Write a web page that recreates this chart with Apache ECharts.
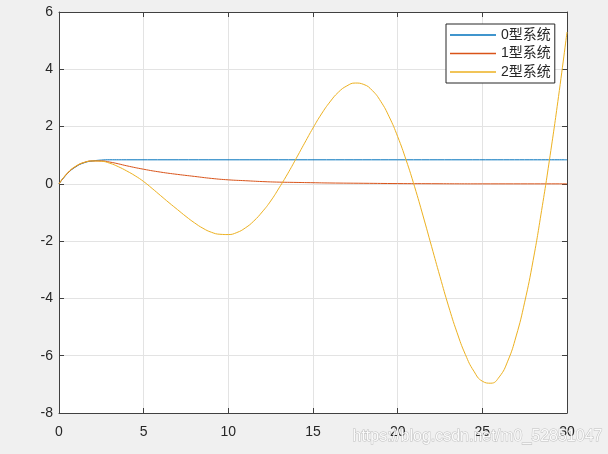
<!DOCTYPE html>
<html>
<head>
<meta charset="utf-8">
<script src="https://cdn.jsdelivr.net/npm/echarts@6/dist/echarts.min.js"></script>
<style>
html,body{margin:0;padding:0;background:#f0f0f0;}
#c{width:608px;height:454px;}
</style>
</head>
<body>
<div id="c"></div>
<script>
var seriesNames = ['0型系统', '1型系统', '2型系统'];
var xTicks = { min: 0, max: 30, interval: 5 };
var yTicks = { min: -8, max: 6, interval: 2 };

var tBlue = [0, 0.5, 1, 1.5, 2, 2.5, 3, 4, 30];
var vBlue = [0, 0.36, 0.6, 0.74, 0.8, 0.83, 0.84, 0.84, 0.84];

var tOrange = [0, 0.5, 1, 1.5, 2, 2.5, 3, 3.5, 4, 5, 6, 7, 8, 9, 10, 11, 12, 13, 14, 15, 16, 18, 20, 22, 25, 30];
var vOrange = [0, 0.37, 0.61, 0.75, 0.80, 0.80, 0.76, 0.70, 0.63, 0.51, 0.41, 0.33, 0.26, 0.19, 0.14, 0.11, 0.08, 0.06, 0.05, 0.04, 0.03, 0.02, 0.01, 0.005, 0, 0];

var tYellow = [0, 0.5, 1, 1.5, 2, 2.5, 3, 3.5, 4, 4.5, 5, 5.5, 6, 6.5, 7, 7.5, 8, 8.5, 9, 9.5, 10, 10.5, 11, 11.5, 12, 12.5, 13, 13.5, 14, 14.5, 15, 15.5, 16, 16.5, 17, 17.5, 18, 18.5, 19, 19.5, 20, 20.5, 21, 21.5, 22, 22.5, 23, 23.5, 24, 24.5, 25, 25.5, 26, 26.5, 27, 27.5, 28, 28.5, 29, 29.5, 30];
var vYellow = [0, 0.38, 0.62, 0.75, 0.80, 0.79, 0.72, 0.60, 0.45, 0.28, 0.08, -0.16, -0.41, -0.66, -0.90, -1.14, -1.36, -1.55, -1.69, -1.76, -1.77, -1.70, -1.54, -1.30, -0.98, -0.60, -0.14, 0.35, 0.88, 1.42, 1.95, 2.44, 2.86, 3.20, 3.42, 3.52, 3.47, 3.26, 2.88, 2.34, 1.65, 0.83, -0.10, -1.12, -2.18, -3.24, -4.26, -5.18, -5.96, -6.54, -6.89, -6.96, -6.74, -6.19, -5.31, -4.13, -2.67, -0.93, 0.98, 3.05, 5.3];

var colors = ['#0072BD', '#D95319', '#EDB120'];

function pairs(t, v) { return t.map(function (x, i) { return [x, v[i]]; }); }

var chart = echarts.init(document.getElementById('c'), null, { renderer: 'canvas' });
var font = "'Liberation Sans', Arial, 'Noto Sans CJK SC', sans-serif";
var axisColor = '#404040';
var labelColor = '#262626';

var option = {
  backgroundColor: '#f0f0f0',
  animation: false,
  grid: { left: 59, right: 41, top: 12, bottom: 41, show: true, backgroundColor: '#ffffff', borderWidth: 0 },
  xAxis: [
    {
      type: 'value', min: xTicks.min, max: xTicks.max, interval: xTicks.interval, position: 'bottom',
      axisLine: { show: true, onZero: false, lineStyle: { color: axisColor, width: 1 } },
      axisTick: { show: true, inside: true, length: 5, lineStyle: { color: axisColor } },
      axisLabel: { color: labelColor, fontSize: 14, fontFamily: font, margin: 12 },
      splitLine: { show: true, lineStyle: { color: '#e3e3e3', width: 1 } }
    },
    {
      type: 'value', min: xTicks.min, max: xTicks.max, interval: xTicks.interval, position: 'top',
      axisLine: { show: true, onZero: false, lineStyle: { color: axisColor, width: 1 } },
      axisTick: { show: true, inside: true, length: 5, lineStyle: { color: axisColor } },
      axisLabel: { show: false }, splitLine: { show: false }
    }
  ],
  yAxis: [
    {
      type: 'value', min: yTicks.min, max: yTicks.max, interval: yTicks.interval, position: 'left',
      axisLine: { show: true, onZero: false, lineStyle: { color: axisColor, width: 1 } },
      axisTick: { show: true, inside: true, length: 5, lineStyle: { color: axisColor } },
      axisLabel: { color: labelColor, fontSize: 14, fontFamily: font, margin: 6 },
      splitLine: { show: true, lineStyle: { color: '#e3e3e3', width: 1 } }
    },
    {
      type: 'value', min: yTicks.min, max: yTicks.max, interval: yTicks.interval, position: 'right',
      axisLine: { show: true, onZero: false, lineStyle: { color: axisColor, width: 1 } },
      axisTick: { show: true, inside: true, length: 5, lineStyle: { color: axisColor } },
      axisLabel: { show: false }, splitLine: { show: false }
    }
  ],
  legend: {
    orient: 'vertical', left: 446, top: 24,
    padding: [4, 4, 4, 4],
    backgroundColor: '#ffffff', borderColor: '#262626', borderWidth: 1,
    itemWidth: 46, itemHeight: 1.5, itemGap: 4.5, icon: 'rect',
    textStyle: { color: '#262626', fontSize: 14, fontFamily: font, lineHeight: 14 },
    data: seriesNames
  },
  series: [
    { name: seriesNames[0], type: 'line', data: pairs(tBlue, vBlue), smooth: true, symbol: 'none', lineStyle: { color: colors[0], width: 1 }, itemStyle: { color: colors[0] } },
    { name: seriesNames[1], type: 'line', data: pairs(tOrange, vOrange), smooth: true, symbol: 'none', lineStyle: { color: colors[1], width: 1 }, itemStyle: { color: colors[1] } },
    { name: seriesNames[2], type: 'line', data: pairs(tYellow, vYellow), smooth: true, symbol: 'none', lineStyle: { color: colors[2], width: 1 }, itemStyle: { color: colors[2] } }
  ],
  graphic: [
    {
      type: 'text', left: 352, top: 428, silent: true, z: 100,
      style: {
        text: 'https://blog.csdn.net/m0_52851047',
        fill: 'rgba(255,255,255,0.9)', stroke: 'rgba(130,130,130,0.45)', lineWidth: 1,
        font: "16px 'Liberation Sans Narrow', 'Liberation Sans', Arial, sans-serif"
      }
    }
  ]
};
chart.setOption(option);
</script>
</body>
</html>
